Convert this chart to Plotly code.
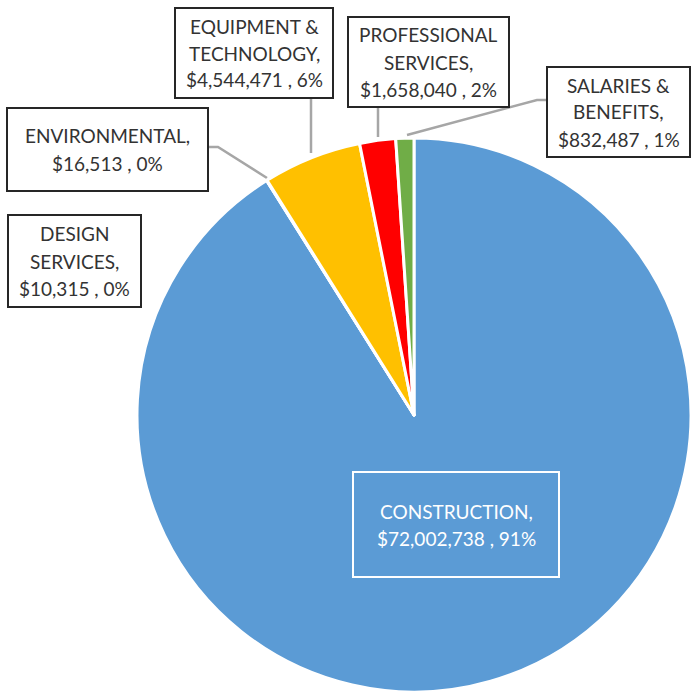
import plotly.graph_objects as go

W, H = 691, 697

categories = ["CONSTRUCTION", "DESIGN SERVICES", "ENVIRONMENTAL",
              "EQUIPMENT & TECHNOLOGY", "PROFESSIONAL SERVICES", "SALARIES & BENEFITS"]
label_lines = [["CONSTRUCTION,"], ["DESIGN", "SERVICES,"], ["ENVIRONMENTAL,"],
               ["EQUIPMENT &", "TECHNOLOGY,"], ["PROFESSIONAL", "SERVICES,"],
               ["SALARIES &", "BENEFITS,"]]
values = [72002738, 10315, 16513, 4544471, 1658040, 832487]
colors = ["#5B9BD5", "#ED7D31", "#A5A5A5", "#FFC000", "#FF0000", "#70AD47"]

total = sum(values)

def px_x(x):
    return x / W

def px_y(y):
    return 1 - y / H

fig = go.Figure()
fig.add_trace(go.Pie(
    labels=categories, values=values, sort=False, direction="clockwise",
    rotation=0, textinfo="none", hoverinfo="label+value+percent",
    marker=dict(colors=colors, line=dict(color="white", width=3)),
    domain=dict(x=[137 / W, 1.0], y=[(H - 693) / H, (H - 137) / H]),
    showlegend=False,
))

# label boxes: (left, top, right, bottom) in pixels
boxes = [
    (353, 472, 559, 577),
    (8, 215, 141, 307),
    (7, 108, 208, 191),
    (175, 8, 333, 98),
    (348, 17, 509, 107),
    (547, 67, 690, 157),
]

FONT = "Lato"
LINE = 27
for i, (l, t, r, b) in enumerate(boxes):
    pct = round(values[i] / total * 100)
    lines = label_lines[i] + [f"${values[i]:,} , {pct}%"]
    is_main = i == 0
    fig.add_shape(type="rect", xref="paper", yref="paper",
                  x0=px_x(l), x1=px_x(r), y0=px_y(b), y1=px_y(t),
                  line=dict(color="white" if is_main else "#262626", width=2),
                  fillcolor="rgba(0,0,0,0)" if is_main else "white")
    cy = (t + b) / 2
    n = len(lines)
    for k, s in enumerate(lines):
        yk = cy + (k - (n - 1) / 2) * LINE
        fig.add_annotation(xref="paper", yref="paper",
                           x=px_x((l + r) / 2), y=px_y(yk),
                           xanchor="center", yanchor="middle", showarrow=False,
                           text=s, align="center",
                           font=dict(family=FONT, size=19,
                                     color="white" if is_main else "#333333"))

# leader lines
leaders = [
    [(311, 98), (311, 153)],
    [(208, 147), (218, 147), (267, 178)],
    [(378, 107), (378, 137)],
    [(547, 100), (537, 100), (407, 135)],
]
for coords in leaders:
    path = "M " + " L ".join(f"{px_x(x)} {px_y(y)}" for x, y in coords)
    fig.add_shape(type="path", xref="paper", yref="paper", path=path,
                  line=dict(color="#A6A6A6", width=2.5), layer="below")

fig.update_layout(width=W, height=H, margin=dict(l=0, r=0, t=0, b=0),
                  paper_bgcolor="white", plot_bgcolor="white")
fig.write_html("out.html", config={"displayModeBar": False},
               post_script="document.body.style.margin='0';document.body.style.overflow='hidden';")
